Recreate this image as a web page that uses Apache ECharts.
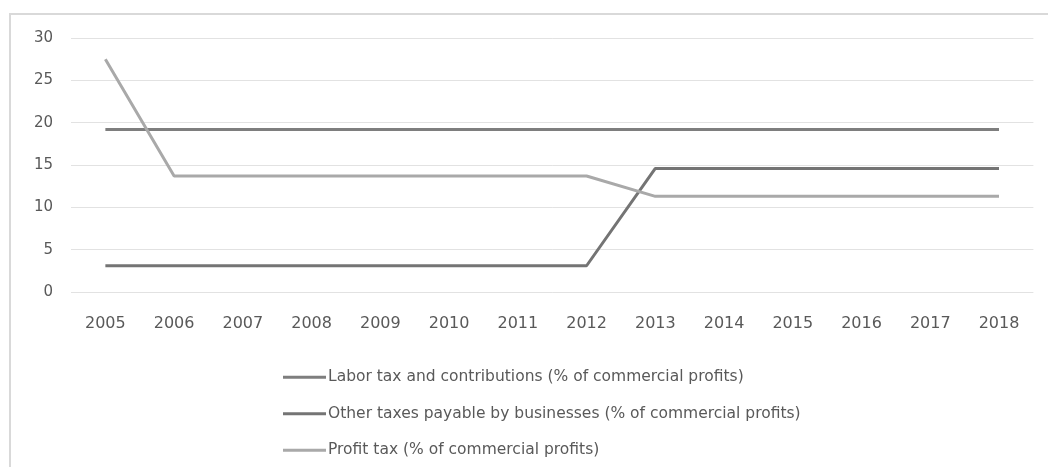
<!DOCTYPE html>
<html>
<head>
<meta charset="utf-8">
<script src="https://cdn.jsdelivr.net/npm/echarts@6/dist/echarts.min.js"></script>
<style>
  html, body { margin: 0; padding: 0; background: #ffffff; }
  #chart { width: 1048px; height: 467px; }
</style>
</head>
<body>
<div id="chart"></div>
<script>
// Tax rates by year (% of commercial profits)
const years = ['2005', '2006', '2007', '2008', '2009', '2010', '2011', '2012', '2013', '2014', '2015', '2016', '2017', '2018'];
const laborTax = [19.2, 19.2, 19.2, 19.2, 19.2, 19.2, 19.2, 19.2, 19.2, 19.2, 19.2, 19.2, 19.2, 19.2];
const otherTaxes = [3.1, 3.1, 3.1, 3.1, 3.1, 3.1, 3.1, 3.1, 14.6, 14.6, 14.6, 14.6, 14.6, 14.6];
const profitTax = [27.5, 13.7, 13.7, 13.7, 13.7, 13.7, 13.7, 13.7, 11.3, 11.3, 11.3, 11.3, 11.3, 11.3];

const seriesNames = [
  'Labor tax and contributions (% of commercial profits)',
  'Other taxes payable by businesses (% of commercial profits)',
  'Profit tax (% of commercial profits)'
];
const seriesColors = ['#7e7e7e', '#747474', '#a9a9a9'];

const FONT = '"DejaVu Sans", "Liberation Sans", sans-serif';

const chart = echarts.init(document.getElementById('chart'), null, { renderer: 'canvas' });

function lineSeries(name, data, color) {
  return {
    name: name,
    type: 'line',
    data: data,
    symbol: 'none',
    smooth: false,
    lineStyle: { color: color, width: 3 },
    itemStyle: { color: color },
    z: 3
  };
}

chart.setOption({
  backgroundColor: '#ffffff',
  animation: false,
  graphic: [{
    type: 'rect',
    shape: { x: 10, y: 14, width: 1060, height: 480 },
    style: { fill: 'none', stroke: '#d9d9d9', lineWidth: 2 },
    silent: true,
    z: -1
  }],
  grid: { left: 71, right: 14.6, top: 38, height: 254, containLabel: false },
  xAxis: {
    type: 'category',
    data: years,
    boundaryGap: true,
    axisLine: { show: false },
    axisTick: { show: false },
    axisLabel: { color: '#595959', fontFamily: FONT, fontSize: 16, margin: 24 }
  },
  yAxis: {
    type: 'value',
    min: 0,
    max: 30,
    interval: 5,
    axisLine: { show: false },
    axisTick: { show: false },
    splitLine: { lineStyle: { color: '#e2e2e2', width: 1 } },
    axisLabel: { color: '#595959', fontFamily: FONT, fontSize: 15, margin: 18 }
  },
  legend: {
    orient: 'vertical',
    left: 278,
    top: 363,
    itemGap: 18,
    itemWidth: 43,
    itemHeight: 3,
    icon: 'rect',
    textStyle: { color: '#595959', fontFamily: FONT, fontSize: 15.5, lineHeight: 18.5, padding: [0, 0, 0, -3] },
    data: seriesNames
  },
  series: [
    lineSeries(seriesNames[0], laborTax, seriesColors[0]),
    lineSeries(seriesNames[1], otherTaxes, seriesColors[1]),
    lineSeries(seriesNames[2], profitTax, seriesColors[2])
  ]
});
</script>
</body>
</html>
